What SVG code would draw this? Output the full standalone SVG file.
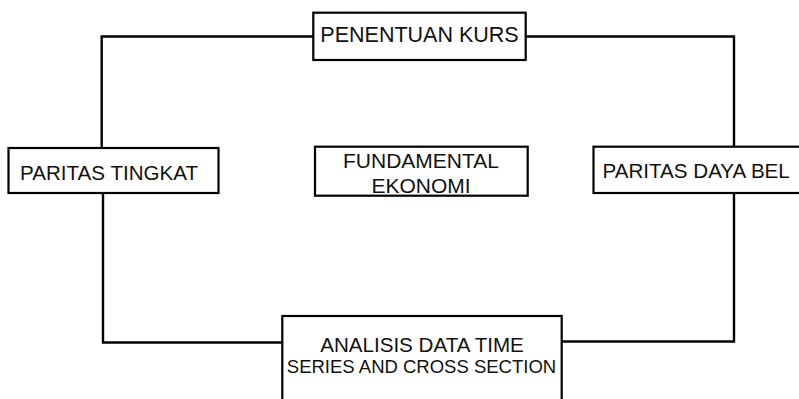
<svg xmlns="http://www.w3.org/2000/svg" width="799" height="399" viewBox="0 0 799 399">
  <style>
    .box { fill: #ffffff; stroke: #000000; stroke-width: 2.2; }
    .wire { fill: none; stroke: #000000; stroke-width: 2.4; stroke-linejoin: miter; }
    .label { font-family: "Liberation Sans", Arial, sans-serif; font-size: 21px; fill: #111111; }
    .mid { text-anchor: middle; }
    .small { font-size: 18.5px; }
    .head { font-size: 21.5px; }
    .side { font-size: 20.6px; }
  </style>
  <rect width="799" height="399" fill="#ffffff"/>

  <!-- connectors -->
  <g id="connectors">
    <polyline class="wire" points="313,36.5 101.7,36.5 101.7,148"/>
    <polyline class="wire" points="103,193 103,342.5 282,342.5"/>
    <polyline class="wire" points="525.7,36.5 734,36.5 734,147"/>
    <polyline class="wire" points="734,193 734,341.5 561.7,341.5"/>
  </g>

  <g id="penentuan-kurs">
    <rect class="box" x="313.3" y="12.7" width="212.4" height="47.3"/>
    <text class="label head mid" x="419.5" y="41.8">PENENTUAN KURS</text>
  </g>

  <g id="paritas-tingkat">
    <rect class="box" x="8.5" y="148" width="210" height="45"/>
    <text class="label side" x="20" y="179.5">PARITAS TINGKAT</text>
  </g>

  <g id="fundamental-ekonomi">
    <rect class="box" x="315" y="146.7" width="212.7" height="49"/>
    <text class="label mid" x="421" y="168">FUNDAMENTAL</text>
    <text class="label mid" x="421" y="193">EKONOMI</text>
  </g>

  <g id="paritas-daya-beli">
    <rect class="box" x="593.5" y="146.7" width="220" height="46.3"/>
    <text class="label side" x="602.5" y="178">PARITAS DAYA BEL</text>
  </g>

  <g id="analisis-data">
    <rect class="box" x="282.3" y="316" width="279.4" height="100"/>
    <text class="label side mid" x="422" y="351.7">ANALISIS DATA TIME</text>
    <text class="label small mid" x="421.5" y="373.3">SERIES AND CROSS SECTION</text>
  </g>
</svg>
